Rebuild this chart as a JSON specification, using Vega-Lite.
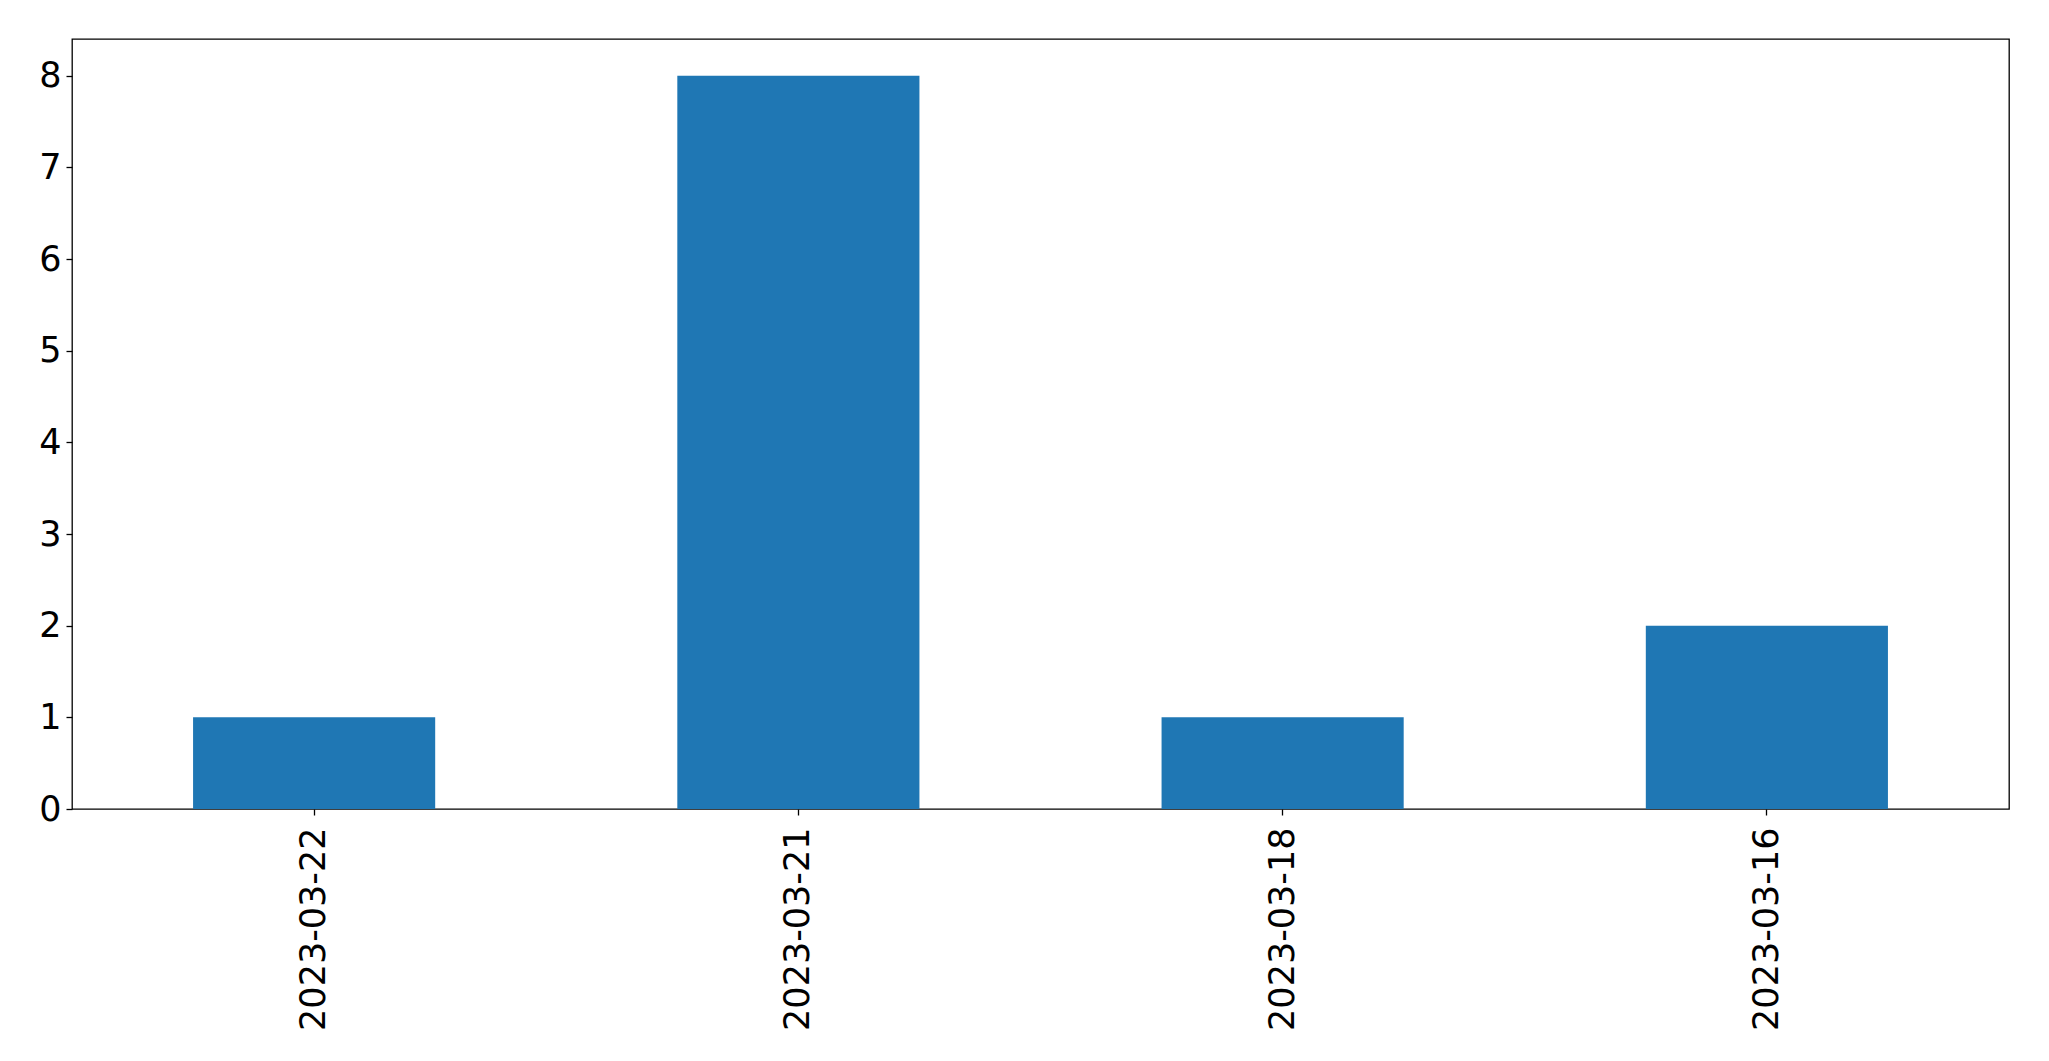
{
  "$schema": "https://vega.github.io/schema/vega-lite/v6.json",
  "width": 1937,
  "height": 770,
  "autosize": {"type": "none"},
  "padding": {"left": 72, "top": 39, "right": 40, "bottom": 252},
  "background": "white",
  "config": {
    "view": {"stroke": "black", "strokeWidth": 1.3},
    "font": "DejaVu Sans"
  },
  "data": {
    "values": [
      {"date": "2023-03-22", "count": 1},
      {"date": "2023-03-21", "count": 8},
      {"date": "2023-03-18", "count": 1},
      {"date": "2023-03-16", "count": 2}
    ]
  },
  "mark": {"type": "bar", "color": "#1f77b4"},
  "encoding": {
    "x": {
      "field": "date",
      "type": "nominal",
      "sort": null,
      "scale": {"paddingInner": 0.5, "paddingOuter": 0.25},
      "axis": {
        "title": null,
        "labelAngle": -90,
        "labelFontSize": 35,
        "labelLimit": 0,
        "labelFont": "DejaVu Sans",
        "labelColor": "black",
        "tickColor": "black",
        "tickSize": 6,
        "tickWidth": 1.3,
        "labelPadding": 12,
        "domain": false,
        "grid": false
      }
    },
    "y": {
      "field": "count",
      "type": "quantitative",
      "scale": {"domain": [0, 8.4], "nice": false},
      "axis": {
        "title": null,
        "values": [0, 1, 2, 3, 4, 5, 6, 7, 8],
        "labelFontSize": 35,
        "labelFont": "DejaVu Sans",
        "labelColor": "black",
        "tickColor": "black",
        "tickSize": 6,
        "tickWidth": 1.3,
        "labelPadding": 5,
        "domain": false,
        "grid": false
      }
    }
  }
}
